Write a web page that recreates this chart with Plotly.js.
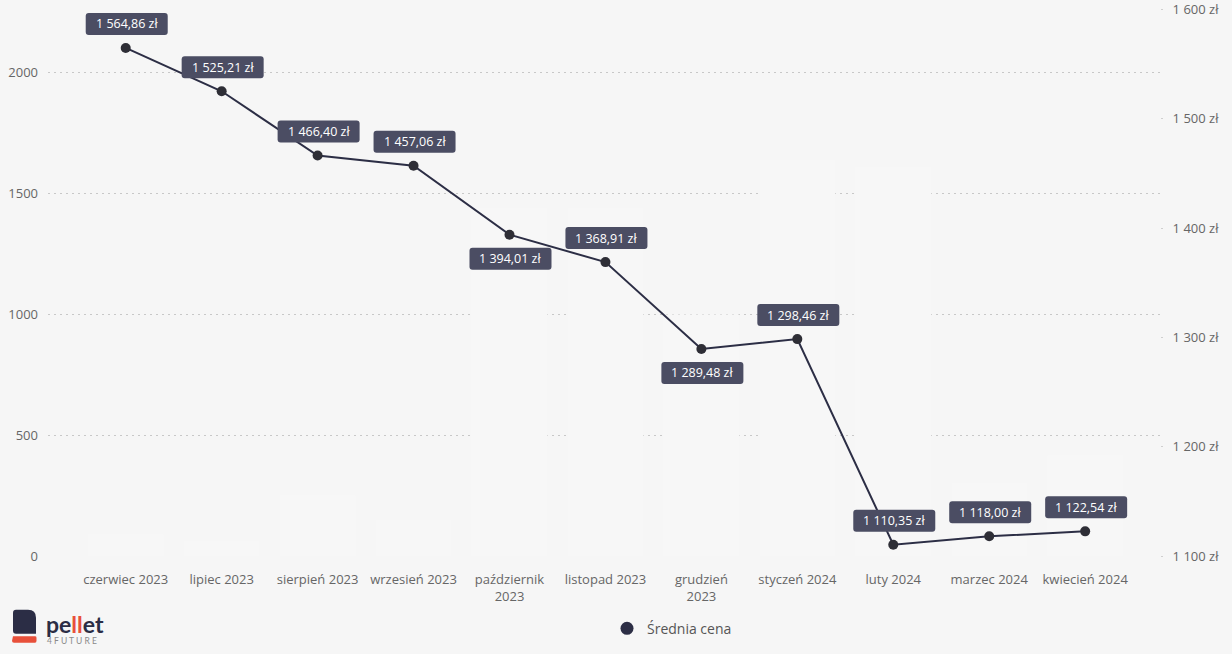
<!DOCTYPE html>
<html><head><meta charset="utf-8">
<script src="https://cdn.plot.ly/plotly-3.0.1.min.js"></script>
<style>html,body{margin:0;padding:0;background:#f6f6f6}#chart{width:1232px;height:654px}</style>
</head><body><div id="chart"></div><script>
// ---- data ----
const monthLabels = ["czerwiec 2023", "lipiec 2023", "sierpień 2023", "wrzesień 2023", "październik<br>2023", "listopad 2023", "grudzień<br>2023", "styczeń 2024", "luty 2024", "marzec 2024", "kwiecień 2024"];
const avgPrice = [1564.86, 1525.21, 1466.40, 1457.06, 1394.01, 1368.91, 1289.48, 1298.46, 1110.35, 1118.00, 1122.54];
const volume = [90, 60, 250, 150, 1440, 1440, 1000, 1640, 1610, 300, 416];
const seriesName = "Średnia cena";
const leftTicks = [0, 500, 1000, 1500, 2000];
const rightTicks = [1100, 1200, 1300, 1400, 1500, 1600];
// label placement: 1 above point, -1 below
const labelSide = [1, 1, 1, 1, -1, 1, -1, 1, 1, 1, 1];

// ---- helpers ----
const W = 1232, H = 654, ML = 48, MR = 72, MT = 9, MB = 96;
const PW = W - ML - MR, PH = H - MT - MB;
const px = x => (x - ML) / PW;
const py = y => (H - MB - y) / PH;
function thousands(n) { return String(n).replace(/\B(?=(\d{3})+(?!\d))/g, ' '); }
function fmt(v) {
  const parts = v.toFixed(2).split('.');
  return thousands(parts[0]) + ',' + parts[1] + ' zł';
}
function roundRect(cx, cy, w, h, r) {
  const l = cx - w / 2, rt = cx + w / 2, b = cy - h / 2, t = cy + h / 2;
  return `M ${l + r},${t} L ${rt - r},${t} Q ${rt},${t} ${rt},${t - r} L ${rt},${b + r} Q ${rt},${b} ${rt - r},${b} L ${l + r},${b} Q ${l},${b} ${l},${b + r} L ${l},${t - r} Q ${l},${t} ${l + r},${t} Z`;
}

const FONT = '"Segoe UI", "Open Sans", "Noto Sans", sans-serif';
const idx = avgPrice.map((_, i) => i);

const traces = [
  {
    type: 'bar', x: monthLabels, y: volume, yaxis: 'y', name: 'Ilość',
    marker: { color: '#f7f7f7', line: { width: 0 } },
    width: 0.79, showlegend: false, hoverinfo: 'skip'
  },
  {
    type: 'scatter', mode: 'lines+markers', x: monthLabels, y: avgPrice, yaxis: 'y2',
    name: seriesName, showlegend: false,
    line: { color: '#2c2e45', width: 2 },
    marker: { color: '#2e2e36', size: 10 }
  },
  {
    type: 'scatter', mode: 'markers', x: [null], y: [null], yaxis: 'y2',
    name: seriesName, showlegend: true,
    marker: { color: '#2c2e45', size: 13 }
  }
];

const shapes = [];
const annotations = [];
idx.forEach(i => {
  const dy = 24 * labelSide[i];
  shapes.push({
    type: 'path', xref: 'x', yref: 'y2', xsizemode: 'pixel', ysizemode: 'pixel',
    xanchor: i, yanchor: avgPrice[i],
    path: roundRect(1, dy, 82, 22, 3),
    fillcolor: '#4b4d63', line: { width: 0 }, layer: 'above'
  });
  annotations.push({
    xref: 'x', yref: 'y2', x: i, y: avgPrice[i], yshift: dy, xshift: 1,
    text: fmt(avgPrice[i]), showarrow: false,
    font: { family: FONT, size: 12.5, color: '#ffffff' }
  });
});

// logo
shapes.push({
  type: 'path', xref: 'paper', yref: 'paper',
  path: `M ${px(13)},${py(615)} Q ${px(13)},${py(612)} ${px(16)},${py(612)} L ${px(28)},${py(612)} Q ${px(36)},${py(612)} ${px(36)},${py(620)} L ${px(36)},${py(636)} L ${px(16)},${py(636)} Q ${px(13)},${py(636)} ${px(13)},${py(633)} Z`,
  fillcolor: '#2b2d45', line: { width: 0 }
});
shapes.push({
  type: 'path', xref: 'paper', yref: 'paper',
  path: `M ${px(13)},${py(638.5)} L ${px(35)},${py(638.5)} Q ${px(36.5)},${py(638.5)} ${px(36.5)},${py(640)} L ${px(36.5)},${py(643)} Q ${px(36.5)},${py(645)} ${px(35)},${py(645)} L ${px(14)},${py(645)} Q ${px(12)},${py(645)} ${px(12)},${py(643)} Z`,
  fillcolor: '#e8503a', line: { width: 0 }
});
annotations.push({
  xref: 'paper', yref: 'paper', x: px(44), y: py(626), xanchor: 'left', yanchor: 'middle',
  text: '<b>pe<span style="color:#e8503a">ll</span>et</b>', showarrow: false,
  font: { family: 'Lato, "Noto Sans", sans-serif', size: 23, color: '#2b2d45' }
});
annotations.push({
  xref: 'paper', yref: 'paper', x: px(45), y: py(643), xanchor: 'left', yanchor: 'middle',
  text: '4 F U T U R E', showarrow: false,
  font: { family: 'Lato, "Noto Sans", sans-serif', size: 8.5, color: '#8a8a8a' }
});

const layout = {
  width: W, height: H,
  margin: { l: ML, r: MR, t: MT, b: MB, pad: 0 },
  paper_bgcolor: '#f6f6f6', plot_bgcolor: '#f6f6f6',
  separators: ', ',
  font: { family: FONT, color: '#666666', size: 13 },
  showlegend: true,
  legend: {
    orientation: 'h', x: px(672), xanchor: 'center', y: py(631), yanchor: 'middle',
    font: { family: FONT, size: 14, color: '#555555' }, itemwidth: 30, bgcolor: 'rgba(0,0,0,0)'
  },
  xaxis: {
    type: 'category', range: [-0.81, 10.78], showgrid: false, zeroline: false, showline: false,
    ticks: '', ticklabelstandoff: 14, tickfont: { family: FONT, size: 13, color: '#666666' }, tickangle: 0
  },
  yaxis: {
    range: [0, 2264], tickvals: leftTicks, tickformat: 'd', showgrid: true,
    gridcolor: '#c8c8c8', griddash: '2px,4px', gridwidth: 1, zeroline: false, showline: false,
    ticks: '', ticklabelstandoff: 9, tickfont: { family: FONT, size: 13, color: '#666666' }
  },
  yaxis2: {
    overlaying: 'y', side: 'right', range: [1100, 1600.5],
    tickvals: rightTicks, ticktext: rightTicks.map(v => thousands(v) + ' zł'),
    showgrid: false, zeroline: false, showline: false, ticklabeloverflow: 'allow',
    ticks: 'outside', ticklen: 2, tickcolor: '#cfcfcf', ticklabelstandoff: 7,
    tickfont: { family: FONT, size: 13, color: '#666666' }
  },
  shapes: shapes,
  annotations: annotations,
  hovermode: false
};

Plotly.newPlot('chart', traces, layout, { staticPlot: true, displayModeBar: false });
</script></body></html>
